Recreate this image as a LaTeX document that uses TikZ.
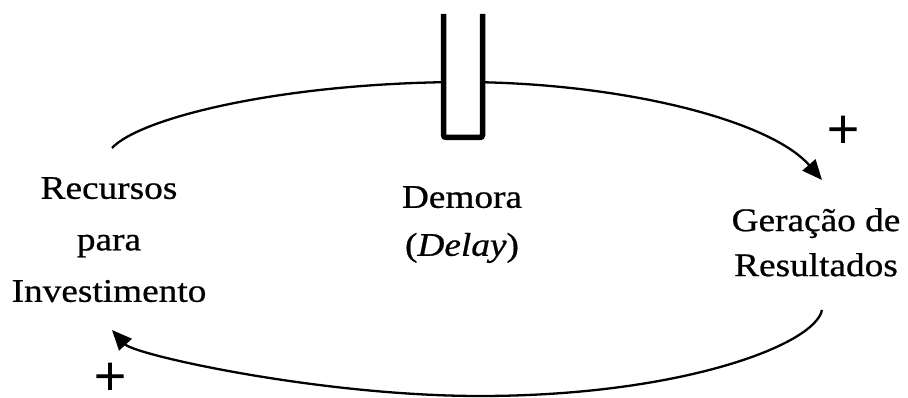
\documentclass[tikz,border=0pt]{standalone}
\usepackage{fontspec}
\setmainfont{Liberation Serif}[FakeStretch=1.13,FakeBold=0.7]
\newfontfamily\plusfont{Liberation Serif}[FakeBold=2]
\usetikzlibrary{arrows.meta}
\begin{document}
\begin{tikzpicture}[x=1pt,y=1pt,
  lbl/.style={inner sep=0pt,anchor=north,align=center},
  plussign/.style={inner sep=0pt,font=\plusfont\fontsize{56}{56}\selectfont},
  loop/.style={line width=2.3pt,-{Triangle[length=20pt,width=17pt]}},
  delaybox/.style={line width=5.5pt,rounded corners=2.5pt}]
\useasboundingbox (0,0) rectangle (908,-398);
% text nodes
\node[lbl,font=\fontsize{33}{51.5}\selectfont] (rec) at (109,-177) {Recursos\\para\\Investimento};
\node[lbl,font=\fontsize{33}{48}\selectfont] (dem) at (462,-186) {Demora\\(\textit{Delay})};
\node[lbl,font=\fontsize{33}{45}\selectfont] (ger) at (816,-208) {Geração de\\Resultados};
\node[plussign] (p1) at (843,-132) {+};
\node[plussign] (p2) at (110,-379) {+};
% connector end points
\coordinate (a1) at (112,-148);
\coordinate (am) at (460,-82);
\coordinate (a2) at (822,-180);
\coordinate (b1) at (822,-310);
\coordinate (bm) at (480,-396);
\coordinate (b2) at (112,-330);
% loop arcs
\draw[loop] (a1) .. controls (140,-118) and (280,-83) .. (am)
  .. controls (620,-82) and (770,-120) .. (a2);
\draw[loop] (b1) .. controls (815,-345) and (680,-396) .. (bm)
  .. controls (320,-396) and (135,-355) .. (b2);
% delay box
\fill[white] (443,-14) rectangle (482,-137);
\draw[delaybox] (443.5,-14) -- (443.5,-137.5) -- (482.5,-137.5) -- (482.5,-14);
\end{tikzpicture}
\end{document}
